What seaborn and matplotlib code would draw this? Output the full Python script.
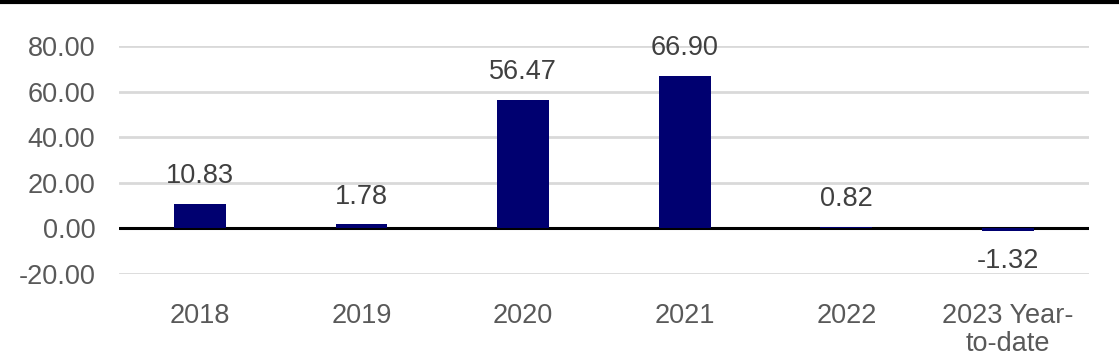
import matplotlib
matplotlib.use("Agg")
import matplotlib.pyplot as plt
import seaborn as sns
import pandas as pd

categories = ["2018", "2019", "2020", "2021", "2022", "2023 Year-\nto-date"]
values = [10.83, 1.78, 56.47, 66.90, 0.82, -1.32]
yticks = [-20, 0, 20, 40, 60, 80]

sns.set_theme(style="white")
plt.rcParams['font.family'] = ['Liberation Sans', 'DejaVu Sans']

FS = 19.5
fig = plt.figure(figsize=(11.19, 3.58), dpi=100)
ax = fig.add_axes([0.1063, 0.2346, 0.973 - 0.1063, 0.8715 - 0.2346])

ax.axhline(0, color="black", lw=2.2, zorder=2)
df = pd.DataFrame({"cat": categories, "val": values})
sns.barplot(data=df, x="cat", y="val", color="#000070", width=0.32, ax=ax,
            saturation=1, zorder=3, linewidth=0, edgecolor="#000070")

ax.set_ylim(-20, 80)
ax.set_xlim(-0.5, 5.5)
ax.set_yticks(yticks)
ax.set_yticklabels([f"{v:.2f}" for v in yticks])
for y in yticks:
    if y != 0:
        ax.axhline(y, color="#d9d9d9", lw=2, zorder=1)

for i, v in enumerate(values):
    if v >= 0:
        ax.annotate(f"{v:.2f}", (i, v), xytext=(0, 10.5), textcoords="offset points",
                    ha="center", va="bottom", fontsize=FS, color="#404040")
    else:
        ax.annotate(f"{v:.2f}", (i, v), xytext=(0, -12), textcoords="offset points",
                    ha="center", va="top", fontsize=FS, color="#404040")

ax.set_xlabel("")
ax.set_ylabel("")
ax.tick_params(axis="both", length=0, labelsize=FS, colors="#595959")
ax.tick_params(axis="y", pad=17)
ax.tick_params(axis="x", pad=21)
for lbl in ax.get_xticklabels():
    lbl.set_linespacing(1.1)
for s in ax.spines.values():
    s.set_visible(False)

fig.add_artist(plt.Line2D([0, 1], [0.995, 0.995], color="black", lw=3, transform=fig.transFigure))

fig.savefig("out.png", dpi=100)
